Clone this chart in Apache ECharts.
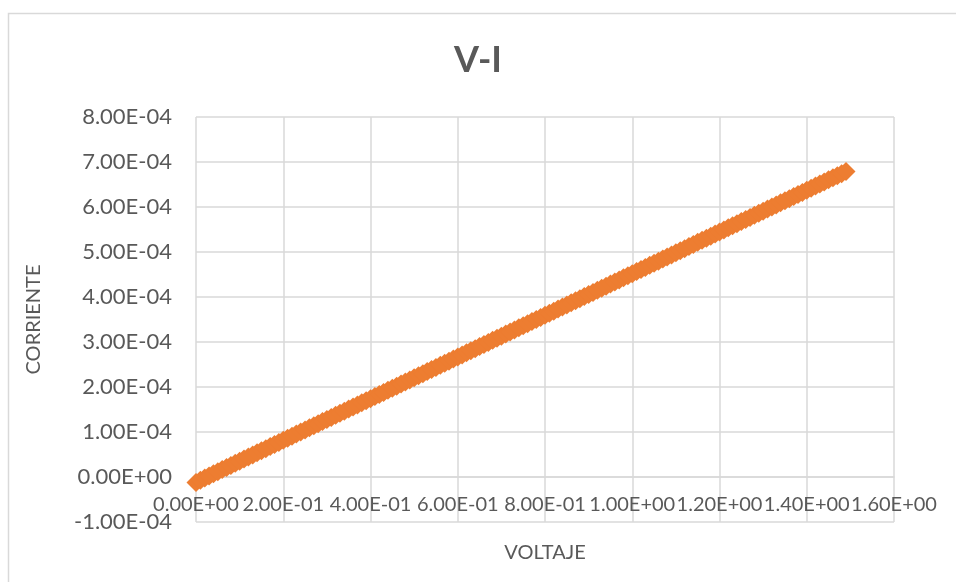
<!DOCTYPE html>
<html>
<head>
<meta charset="utf-8">
<script src="https://cdn.jsdelivr.net/npm/echarts@6/dist/echarts.min.js"></script>
<style>
html,body{margin:0;padding:0;background:#fff;}
#chart{width:956px;height:582px;}
</style>
</head>
<body>
<div id="chart"></div>
<script>
// Data
var chartTitle = 'V-I';
var xAxisTitle = 'VOLTAJE';
var yAxisTitle = 'CORRIENTE';

// Voltage (V)
var voltage = [
0.00,0.01,0.02,0.03,0.04,0.05,0.06,0.07,0.08,0.09,
0.10,0.11,0.12,0.13,0.14,0.15,0.16,0.17,0.18,0.19,
0.20,0.21,0.22,0.23,0.24,0.25,0.26,0.27,0.28,0.29,
0.30,0.31,0.32,0.33,0.34,0.35,0.36,0.37,0.38,0.39,
0.40,0.41,0.42,0.43,0.44,0.45,0.46,0.47,0.48,0.49,
0.50,0.51,0.52,0.53,0.54,0.55,0.56,0.57,0.58,0.59,
0.60,0.61,0.62,0.63,0.64,0.65,0.66,0.67,0.68,0.69,
0.70,0.71,0.72,0.73,0.74,0.75,0.76,0.77,0.78,0.79,
0.80,0.81,0.82,0.83,0.84,0.85,0.86,0.87,0.88,0.89,
0.90,0.91,0.92,0.93,0.94,0.95,0.96,0.97,0.98,0.99,
1.00,1.01,1.02,1.03,1.04,1.05,1.06,1.07,1.08,1.09,
1.10,1.11,1.12,1.13,1.14,1.15,1.16,1.17,1.18,1.19,
1.20,1.21,1.22,1.23,1.24,1.25,1.26,1.27,1.28,1.29,
1.30,1.31,1.32,1.33,1.34,1.35,1.36,1.37,1.38,1.39,
1.40,1.41,1.42,1.43,1.44,1.45,1.46,1.47,1.48,1.49
];

// Current (microamperes)
var currentMicroA = [
-12.0,-7.2,-2.4,2.3,7.0,11.7,16.4,21.1,25.8,30.5,
35.1,39.8,44.4,49.1,53.7,58.4,63.0,67.6,72.3,76.9,
81.5,86.1,90.8,95.4,100.0,104.7,109.3,113.9,118.5,123.2,
127.8,132.4,137.1,141.7,146.3,151.0,155.6,160.2,164.8,169.5,
174.1,178.7,183.4,188.0,192.6,197.3,201.9,206.5,211.1,215.8,
220.4,225.0,229.7,234.3,238.9,243.6,248.2,252.8,257.4,262.1,
266.7,271.3,276.0,280.6,285.2,289.9,294.5,299.1,303.7,308.4,
313.0,317.6,322.3,326.9,331.5,336.2,340.8,345.4,350.0,354.7,
359.3,363.9,368.6,373.2,377.8,382.5,387.1,391.7,396.3,401.0,
405.6,410.2,414.9,419.5,424.1,428.8,433.4,438.0,442.6,447.3,
451.9,456.5,461.2,465.8,470.4,475.1,479.7,484.3,488.9,493.6,
498.2,502.8,507.5,512.1,516.7,521.4,526.0,530.6,535.2,539.9,
544.5,549.1,553.8,558.4,563.0,567.7,572.3,576.9,581.5,586.2,
590.8,595.4,600.1,604.7,609.3,614.0,618.6,623.2,627.8,632.5,
637.1,641.7,646.4,651.0,655.6,660.3,664.9,669.5,674.1,678.8
];

// Axis ranges (x in V, y in microamperes; labels shown in A)
var xMin = 0, xMax = 1.6, xStep = 0.2;
var yMin = -100, yMax = 800, yStep = 100;

function sci(v) {
  var s = Number(v).toExponential(2);
  var parts = s.split('e');
  var exp = parts[1];
  var sign = exp.charAt(0);
  var digits = exp.slice(1);
  while (digits.length < 2) digits = '0' + digits;
  return parts[0] + 'E' + sign + digits;
}

var points = voltage.map(function (v, i) { return [v, currentMicroA[i]]; });

var textColor = '#595959';
var gridColor = '#D9D9D9';
var font = 'Lato';

// plot area (px)
var gridTop = 117, gridBottom = 60, gridLeft = 196, gridRight = 62;
var plotH = 582 - gridTop - gridBottom;
// move the x axis up so it crosses the y axis at zero (Excel style)
var xAxisOffset = -plotH * (0 - yMin) / (yMax - yMin);

var chart = echarts.init(document.getElementById('chart'));
chart.setOption({
  backgroundColor: '#ffffff',
  animation: false,
  graphic: [{
    type: 'rect',
    shape: { x: 8.5, y: 13.5, width: 1000, height: 700 },
    style: { fill: 'none', stroke: '#D9D9D9', lineWidth: 1.5 },
    silent: true,
    z: -1
  }],
  title: {
    text: chartTitle,
    left: 'center',
    top: 37,
    textStyle: { fontFamily: font, fontSize: 36, fontWeight: 'bold', color: textColor }
  },
  grid: { left: gridLeft, right: gridRight, top: gridTop, bottom: gridBottom, containLabel: false },
  xAxis: {
    type: 'value',
    min: xMin, max: xMax, interval: xStep,
    position: 'bottom',
    offset: xAxisOffset,
    name: xAxisTitle,
    nameLocation: 'middle',
    nameGap: 66,
    nameTextStyle: { fontFamily: font, fontSize: 20, color: textColor },
    axisLine: { show: true, onZero: false, lineStyle: { color: gridColor, width: 1.5 } },
    axisTick: { show: false },
    axisLabel: { fontFamily: font, fontSize: 20, color: textColor, margin: 18, formatter: sci,
      showMinLabel: true, showMaxLabel: true, hideOverlap: false },
    splitLine: { show: true, lineStyle: { color: gridColor, width: 1.5 } }
  },
  yAxis: {
    type: 'value',
    min: yMin, max: yMax, interval: yStep,
    name: yAxisTitle,
    nameLocation: 'middle',
    nameGap: 152,
    nameTextStyle: { fontFamily: font, fontSize: 20, color: textColor },
    axisLine: { show: false },
    axisTick: { show: false },
    axisLabel: { fontFamily: font, fontSize: 22, color: textColor, margin: 24,
      showMinLabel: true, showMaxLabel: true, hideOverlap: false,
      formatter: function (v) { return sci(v * 1e-6); } },
    splitLine: { show: true, lineStyle: { color: gridColor, width: 1.5 } }
  },
  series: [{
    type: 'scatter',
    data: points,
    symbol: 'diamond',
    symbolSize: 19,
    itemStyle: { color: '#ED7D31', opacity: 1 }
  }]
});
</script>
</body>
</html>
